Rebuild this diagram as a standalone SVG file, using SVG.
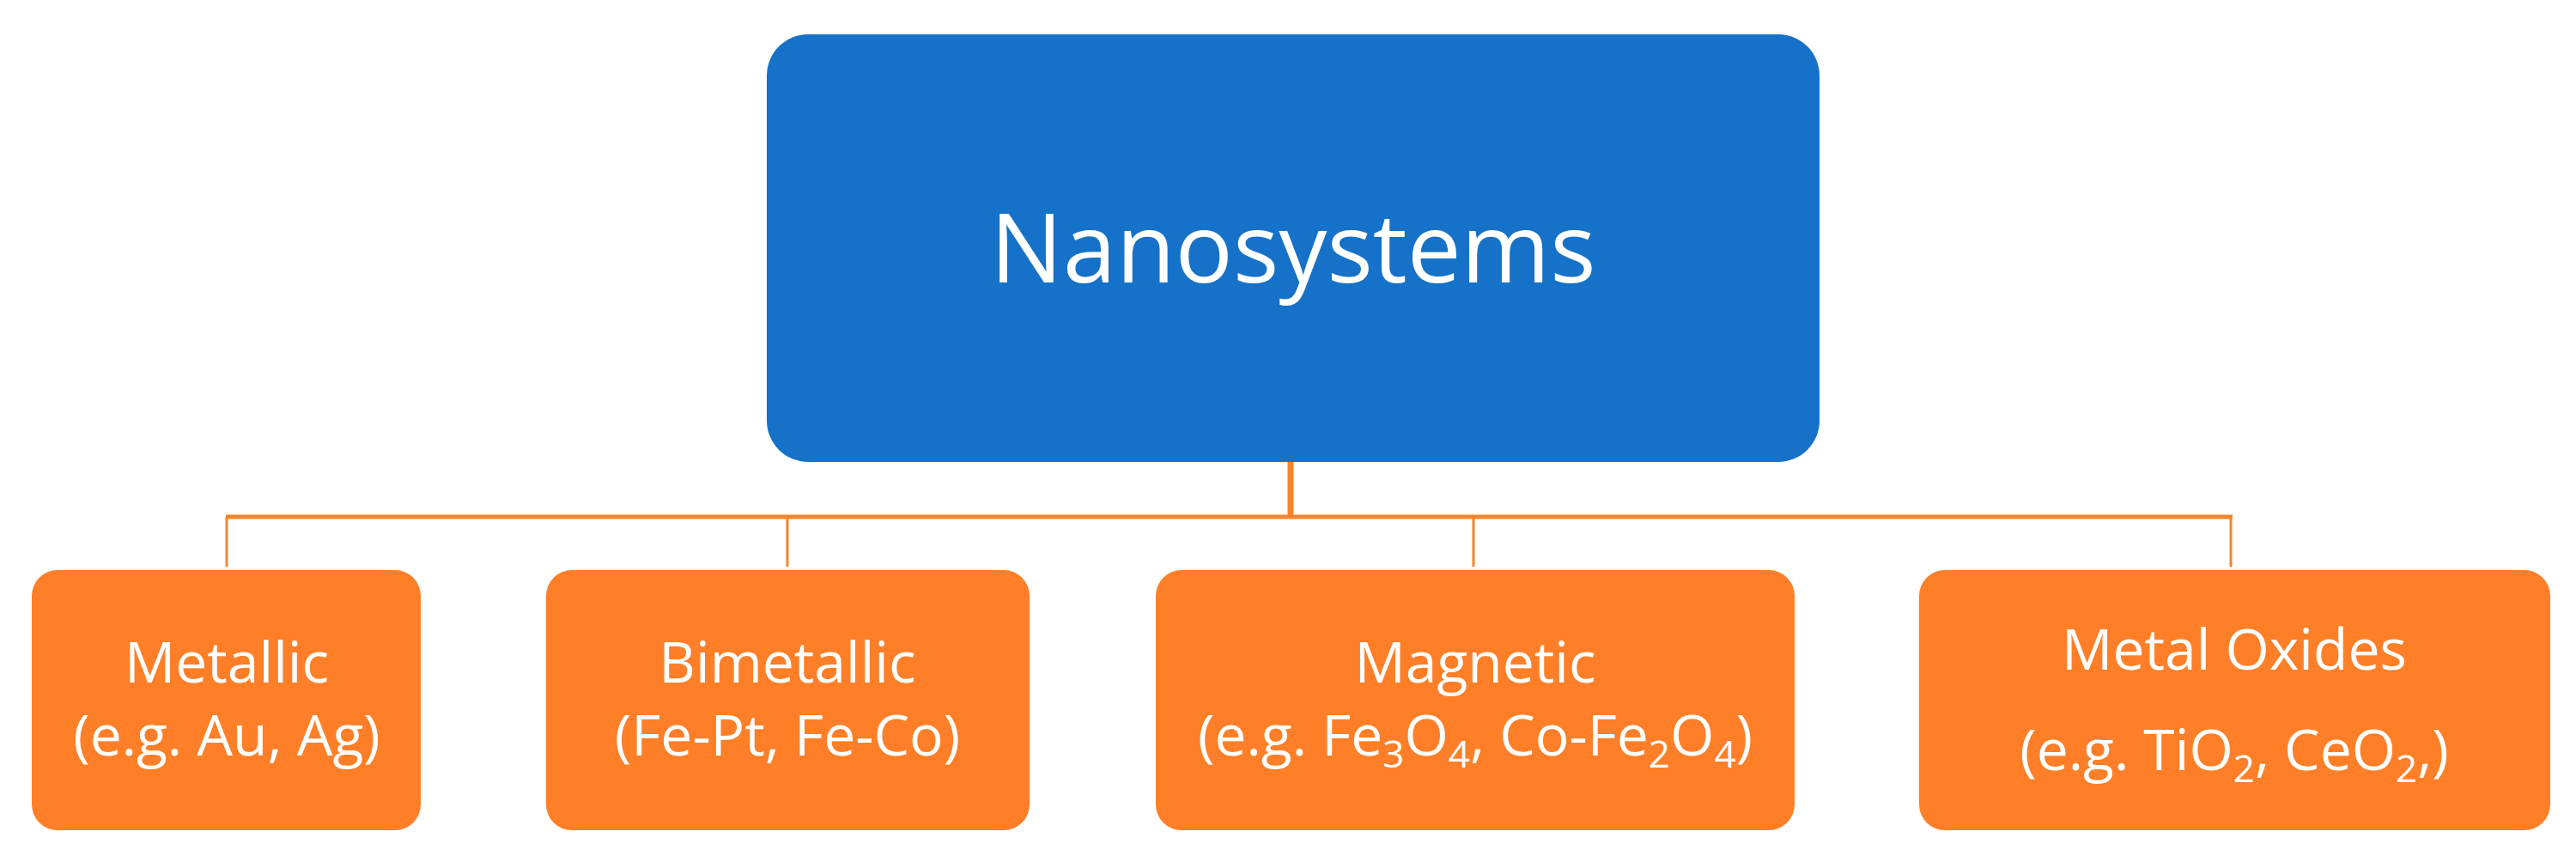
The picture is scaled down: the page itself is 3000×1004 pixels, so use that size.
<svg xmlns="http://www.w3.org/2000/svg" width="3000" height="1004" viewBox="0 0 3000 1004">
<style>
.t{font-family:"Open Sans","Liberation Sans",sans-serif;fill:#fff;text-anchor:middle}
.s{font-size:66px}
.c{stroke:#F5842C;fill:none}
.o{fill:#FE7F27}
</style>
<rect width="3000" height="1004" fill="#fff"/>
<g id="connectors">
<line class="c" x1="1503" y1="538" x2="1503" y2="602" stroke-width="7"/>
<line class="c" x1="263" y1="602" x2="2600" y2="602" stroke-width="5"/>
<line class="c" x1="264" y1="602" x2="264" y2="660" stroke-width="3"/>
<line class="c" x1="917" y1="602" x2="917" y2="660" stroke-width="3"/>
<line class="c" x1="1716" y1="602" x2="1716" y2="660" stroke-width="3"/>
<line class="c" x1="2598" y1="602" x2="2598" y2="660" stroke-width="3"/>
</g>
<g id="root">
<rect x="893" y="40" width="1226" height="498" rx="48" fill="#1672C8"/>
<text class="t" x="1506" y="329" font-size="112">Nanosystems</text>
</g>
<g id="metallic">
<rect class="o" x="37" y="664" width="453" height="303" rx="30"/>
<text class="t s" x="264" y="795">Metallic</text>
<text class="t s" x="264" y="880">(e.g. Au, Ag)</text>
</g>
<g id="bimetallic">
<rect class="o" x="636" y="664" width="563" height="303" rx="30"/>
<text class="t s" x="917" y="795">Bimetallic</text>
<text class="t s" x="917" y="880">(Fe-Pt, Fe-Co)</text>
</g>
<g id="magnetic">
<rect class="o" x="1346" y="664" width="744" height="303" rx="30"/>
<text class="t s" x="1718" y="795">Magnetic</text>
<text class="t s" x="1718" y="880">(e.g. Fe<tspan font-size="44" dy="14">3</tspan><tspan dy="-14">O</tspan><tspan font-size="44" dy="14">4</tspan><tspan dy="-14">, Co-Fe</tspan><tspan font-size="44" dy="14">2</tspan><tspan dy="-14">O</tspan><tspan font-size="44" dy="14">4</tspan><tspan dy="-14">)</tspan></text>
</g>
<g id="metal-oxides">
<rect class="o" x="2235" y="664" width="735" height="303" rx="30"/>
<text class="t s" x="2602" y="780">Metal Oxides</text>
<text class="t s" x="2602" y="897">(e.g. TiO<tspan font-size="44" dy="14">2</tspan><tspan dy="-14">, CeO</tspan><tspan font-size="44" dy="14">2</tspan><tspan dy="-14">,)</tspan></text>
</g>
</svg>
